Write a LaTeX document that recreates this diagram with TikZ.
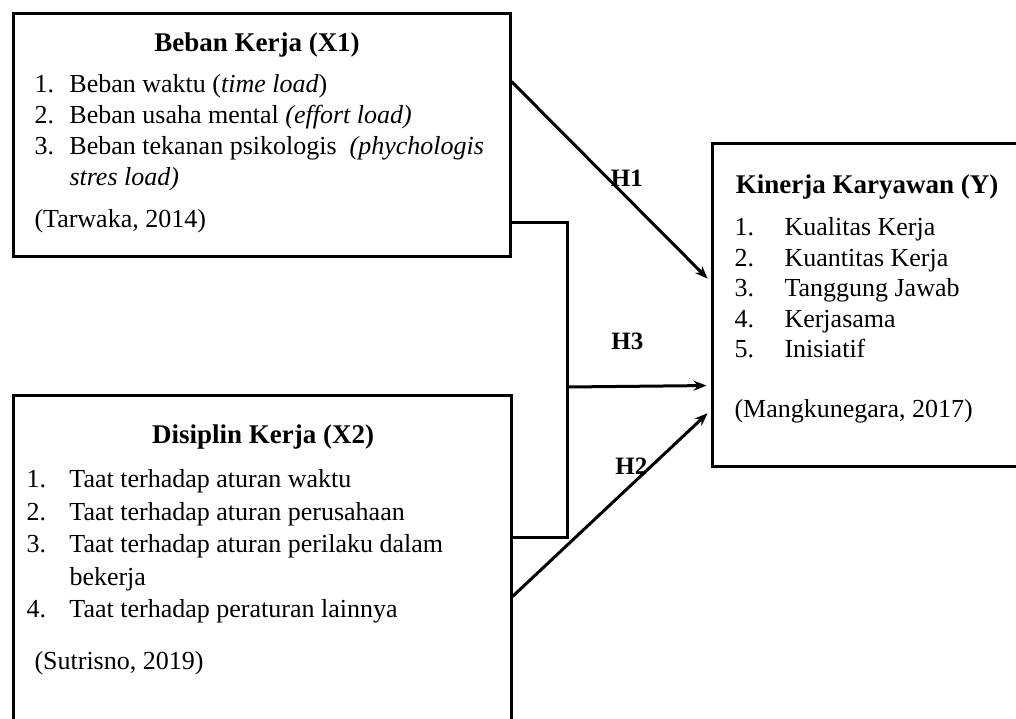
\documentclass[tikz,border=0pt]{standalone}
\usepackage{fontspec}
\setmainfont{Liberation Serif}
\usetikzlibrary{arrows.meta,positioning}

\newcommand{\num}[2]{\makebox[#1][l]{#2}}

\begin{document}
\begin{tikzpicture}[->,>={Stealth[length=6.5pt,width=5pt]},shorten >=2pt,line width=1.5pt,
        x=0.5pt,y=-0.5pt,
        box/.style={draw,rectangle,inner sep=0pt},
        head/.style={font=\fontsize{13.5}{16}\selectfont\bfseries,inner sep=0pt,anchor=base},
        list/.style={align=left,inner sep=0pt,anchor=north west},
        hyp/.style={font=\fontsize{12.5}{15}\selectfont\bfseries,inner sep=0pt}]

  \useasboundingbox (0,0) rectangle (1016,718);
  \clip (0,0) rectangle (1016,718);

  \node[box,minimum width=248.5pt,minimum height=121.5pt] (x1) at (261.5,134.5) {};
  \node[box,minimum width=249pt,minimum height=172.5pt] (x2) at (262,567.5) {};
  \node[box,minimum width=159pt,minimum height=161.5pt] (y) at (871,304.5) {};

  \node[head] (x1h) at (257,51) {Beban Kerja (X1)};
  \node[head] (x2h) at (263,443) {Disiplin Kerja (X2)};
  \node[head] (yh) at (867,193) {Kinerja Karyawan (Y)};

  \node[list,font=\fontsize{13}{15.5}\selectfont] (x1l) at (33,73)
    {\num{17.5pt}{1.}Beban waktu (\textit{time load})\\
     \num{17.5pt}{2.}Beban usaha mental \textit{(effort load)}\\
     \num{17.5pt}{3.}Beban tekanan psikologis \ \textit{(phychologis}\\
     \num{17.5pt}{}\textit{stres load)}\\[5.5pt]
     (Tarwaka, 2014)};
  \node[list,font=\fontsize{13}{16.25}\selectfont] (x2l) at (25,468)
    {\num{21.5pt}{1.}Taat terhadap aturan waktu\\
     \num{21.5pt}{2.}Taat terhadap aturan perusahaan\\
     \num{21.5pt}{3.}Taat terhadap aturan perilaku dalam\\
     \num{21.5pt}{}bekerja\\
     \num{21.5pt}{4.}Taat terhadap peraturan lainnya\\[9.75pt]
     \hspace*{4pt}(Sutrisno, 2019)};
  \node[list,font=\fontsize{13}{15.25}\selectfont] (yl) at (733,216)
    {\num{25pt}{1.}Kualitas Kerja\\
     \num{25pt}{2.}Kuantitas Kerja\\
     \num{25pt}{3.}Tanggung Jawab\\
     \num{25pt}{4.}Kerjasama\\
     \num{25pt}{5.}Inisiatif\\[14.75pt]
     (Mangkunegara, 2017)};

  \coordinate (jn) at (567,387);
  \draw[-,shorten >=0pt] ([yshift=17.5pt]x1.south east) -| (jn) |- ([yshift=-72pt]x2.north east);

  \path ([yshift=-35pt]x1.north east) edge node[hyp,pos=.58,above=5pt] {H1} ([yshift=-70pt]y.north west)
        (jn) edge node[hyp,pos=.42,above=17.5pt] {H3} ([yshift=-122pt]y.north west)
        ([yshift=-101.5pt]x2.north east) edge node[hyp,pos=.6,above=4.5pt] {H2} ([yshift=-134.5pt]y.north west);

\end{tikzpicture}
\end{document}
